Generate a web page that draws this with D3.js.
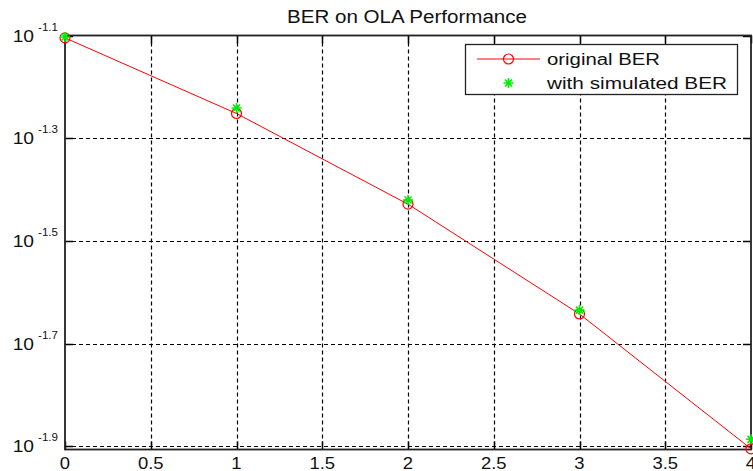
<!DOCTYPE html>
<html>
<head>
<meta charset="utf-8">
<script src="https://cdn.jsdelivr.net/npm/d3@7"></script>
<style>
  body { margin: 0; background: #fff; }
  svg { display: block; font-family: "Liberation Sans", Arial, sans-serif; }
</style>
</head>
<body>
<div class="core_div"></div>
<script>
// data
var xValues = [0, 1, 2, 3, 4];
var originalBER = [0.0786, 0.0560, 0.0373, 0.0228, 0.01246];
var simulatedBER = [0.0789, 0.0574, 0.0380, 0.0232, 0.0130];
var xTicks = [0, 0.5, 1, 1.5, 2, 2.5, 3, 3.5, 4];
var yTickExps = ["-1.9", "-1.7", "-1.5", "-1.3", "-1.1"];
var seriesNames = ["original BER", "with simulated BER"];

var width = 753, height = 471;
var margin = {top: 35.5, right: 2, bottom: 21.5, left: 65};

var svg = d3.select(".core_div").append("svg")
    .attr("width", width)
    .attr("height", height);

var x = d3.scaleLinear().domain([0, 4]).range([margin.left, width - margin.right]);
var y = d3.scaleLog().domain([0.01242, Math.pow(10, -1.1)]).range([height - margin.bottom, margin.top]);

var x0 = x.range()[0], x1 = x.range()[1], yb = y.range()[0], yt = y.range()[1];

// old windows text is drawn wider, stretch it a bit
function widen(sel, k) {
  sel.each(function() {
    var w = this.getComputedTextLength();
    d3.select(this).attr("textLength", w * k).attr("lengthAdjust", "spacingAndGlyphs");
  });
}

// grid lines (dashed)
var grid = svg.append("g").attr("stroke", "#000").attr("stroke-width", 1.2)
    .attr("stroke-dasharray", "4,3");
grid.selectAll("line.vx")
    .data(xTicks.slice(1, -1))
  .enter().append("line")
    .attr("x1", function(d) { return Math.round(x(d)) + 0.5; })
    .attr("x2", function(d) { return Math.round(x(d)) + 0.5; })
    .attr("y1", yt).attr("y2", yb);
grid.selectAll("line.hy")
    .data(yTickExps.slice(0, -1))
  .enter().append("line")
    .attr("y1", function(d) { return Math.round(y(Math.pow(10, +d))) + 0.5; })
    .attr("y2", function(d) { return Math.round(y(Math.pow(10, +d))) + 0.5; })
    .attr("x1", x0).attr("x2", x1);

// tick marks inside the box
var ticks = svg.append("g").attr("stroke", "#000").attr("stroke-width", 1.5);
xTicks.forEach(function(t) {
  var px = Math.round(x(t)) + 0.5;
  ticks.append("line").attr("x1", px).attr("x2", px).attr("y1", yb).attr("y2", yb - 8);
  ticks.append("line").attr("x1", px).attr("x2", px).attr("y1", yt).attr("y2", yt + 8);
});
yTickExps.forEach(function(e) {
  var py = Math.round(y(Math.pow(10, +e))) + 0.5;
  ticks.append("line").attr("x1", x0).attr("x2", x0 + 8).attr("y1", py).attr("y2", py);
  ticks.append("line").attr("x1", x1).attr("x2", x1 - 8).attr("y1", py).attr("y2", py);
});

// axes box
svg.append("rect")
    .attr("x", x0).attr("y", yt)
    .attr("width", x1 - x0).attr("height", yb - yt)
    .attr("fill", "none").attr("stroke", "#222").attr("stroke-width", 1.8);

// x tick labels
svg.append("g").selectAll("text")
    .data(xTicks)
  .enter().append("text")
    .attr("x", function(d) { return x(d); })
    .attr("y", yb + 19)
    .attr("text-anchor", "middle")
    .attr("font-size", 16)
    .attr("fill", "#111")
    .text(function(d) { return d; })
    .call(widen, 1.15);

// y tick labels 10^e
var ylab = svg.append("g");
ylab.selectAll("text.base")
    .data(yTickExps)
  .enter().append("text")
    .attr("x", x0 - 31)
    .attr("y", function(d) { return y(Math.pow(10, +d)) + 6; })
    .attr("text-anchor", "end")
    .attr("font-size", 16)
    .attr("fill", "#111")
    .text("10")
    .call(widen, 1.2);
ylab.selectAll("text.sup")
    .data(yTickExps)
  .enter().append("text")
    .attr("x", x0 - 7)
    .attr("y", function(d) { return y(Math.pow(10, +d)) - 5; })
    .attr("text-anchor", "end")
    .attr("font-size", 10.5)
    .attr("fill", "#111")
    .text(function(d) { return d; })
    .call(widen, 1.1);

// title
svg.append("text")
    .attr("x", 407)
    .attr("y", 23)
    .attr("text-anchor", "middle")
    .attr("font-size", 18)
    .attr("fill", "#111")
    .attr("textLength", 240)
    .attr("lengthAdjust", "spacingAndGlyphs")
    .text("BER on OLA Performance");

// original BER line + circles
var line = d3.line()
    .x(function(d, i) { return x(xValues[i]); })
    .y(function(d) { return y(d); });

svg.append("path")
    .datum(originalBER)
    .attr("d", line)
    .attr("fill", "none")
    .attr("stroke", "#ff0000")
    .attr("stroke-width", 1);

svg.append("g").selectAll("circle")
    .data(originalBER)
  .enter().append("circle")
    .attr("cx", function(d, i) { return x(xValues[i]); })
    .attr("cy", function(d) { return y(d); })
    .attr("r", 5)
    .attr("fill", "none")
    .attr("stroke", "#ff0000")
    .attr("stroke-width", 1.2);

// star marker
function star(g, cx, cy, s) {
  var d = "M" + (cx - s) + "," + cy + "H" + (cx + s) +
          "M" + cx + "," + (cy - s) + "V" + (cy + s) +
          "M" + (cx - s * 0.7) + "," + (cy - s * 0.7) + "L" + (cx + s * 0.7) + "," + (cy + s * 0.7) +
          "M" + (cx - s * 0.7) + "," + (cy + s * 0.7) + "L" + (cx + s * 0.7) + "," + (cy - s * 0.7);
  g.append("path").attr("d", d).attr("stroke", "#00ee00").attr("stroke-width", 1.6).attr("fill", "none");
}
var stars = svg.append("g");
simulatedBER.forEach(function(v, i) { star(stars, x(xValues[i]), y(v), 5); });

// legend
var legendLen = [113, 180];
var lg = svg.append("g");
lg.append("rect")
    .attr("x", 465.5).attr("y", 44.5)
    .attr("width", 272).attr("height", 50)
    .attr("fill", "#fff").attr("stroke", "#222").attr("stroke-width", 1.3);
lg.append("line")
    .attr("x1", 477).attr("x2", 540).attr("y1", 59).attr("y2", 59)
    .attr("stroke", "#ff0000").attr("stroke-width", 1);
lg.append("circle")
    .attr("cx", 508.5).attr("cy", 59).attr("r", 5)
    .attr("fill", "none").attr("stroke", "#ff0000").attr("stroke-width", 1.2);
star(lg, 508.5, 83, 5);
lg.selectAll("text.lab")
    .data(seriesNames)
  .enter().append("text")
    .attr("x", 547)
    .attr("y", function(d, i) { return 65 + i * 24; })
    .attr("font-size", 16)
    .attr("fill", "#111")
    .attr("textLength", function(d, i) { return legendLen[i]; })
    .attr("lengthAdjust", "spacingAndGlyphs")
    .text(function(d) { return d; });
</script>
</body>
</html>
